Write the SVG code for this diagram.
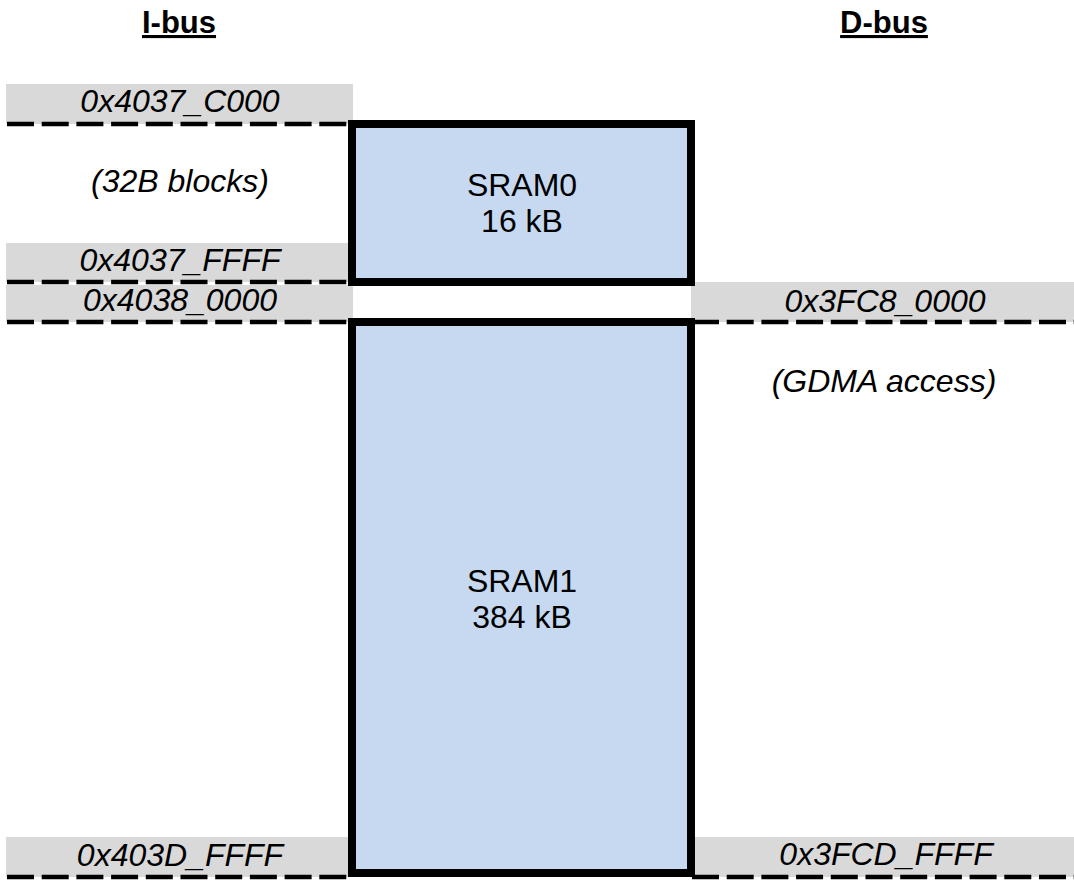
<svg xmlns="http://www.w3.org/2000/svg" width="1074" height="881" viewBox="0 0 1074 881">
<style>
.bg{fill:#ffffff}
.band{fill:#d9d9d9}
.dash{stroke:#000;stroke-width:4.5;stroke-dasharray:27 7.7;fill:none}
.mem{fill:#c6d9f0;stroke:#000;stroke-width:8}
.addr{font-family:"Liberation Sans",Arial,sans-serif;font-size:32px;font-style:italic;fill:#000;text-anchor:middle}
.lbl{font-family:"Liberation Sans",Arial,sans-serif;font-size:32px;fill:#000;text-anchor:middle}
.head{font-family:"Liberation Sans",Arial,sans-serif;font-size:31px;font-weight:bold;fill:#000;text-anchor:middle;text-decoration:underline}
</style>
<rect class="bg" x="0" y="0" width="1074" height="881"/>
<g id="headers">
<text class="head" x="179" y="33">I-bus</text>
<text class="head" x="884" y="33">D-bus</text>
</g>
<g id="bands">
<rect class="band" x="6" y="84" width="347" height="40"/>
<rect class="band" x="6" y="243" width="347" height="39"/>
<rect class="band" x="6" y="285" width="347" height="37"/>
<rect class="band" x="691" y="282" width="383" height="40"/>
<rect class="band" x="6" y="837" width="347" height="40"/>
<rect class="band" x="691" y="837" width="383" height="40"/>
</g>
<g id="connectors">
<line class="dash" x1="7" y1="124" x2="348" y2="124"/>
<line class="dash" x1="7" y1="282" x2="348" y2="282"/>
<line class="dash" x1="7" y1="322" x2="348" y2="322"/>
<line class="dash" x1="692" y1="322" x2="1074" y2="322"/>
<line class="dash" x1="7" y1="877" x2="348" y2="877"/>
<line class="dash" x1="692" y1="877" x2="1074" y2="877"/>
</g>
<g id="labels">
<text class="addr" x="180" y="112">0x4037_C000</text>
<text class="addr" x="180" y="192">(32B blocks)</text>
<text class="addr" x="180" y="271">0x4037_FFFF</text>
<text class="addr" x="180" y="311">0x4038_0000</text>
<text class="addr" x="885" y="312">0x3FC8_0000</text>
<text class="addr" x="884" y="392">(GDMA access)</text>
<text class="addr" x="180" y="866">0x403D_FFFF</text>
<text class="addr" x="886" y="865">0x3FCD_FFFF</text>
</g>
<g id="sram0">
<rect class="mem" x="352" y="124" width="339" height="158"/>
<text class="lbl" x="522" y="196">SRAM0</text>
<text class="lbl" x="522" y="232">16 kB</text>
</g>
<g id="sram1">
<rect class="mem" x="352" y="322" width="339" height="551"/>
<text class="lbl" x="522" y="592">SRAM1</text>
<text class="lbl" x="522" y="628">384 kB</text>
</g>
</svg>
